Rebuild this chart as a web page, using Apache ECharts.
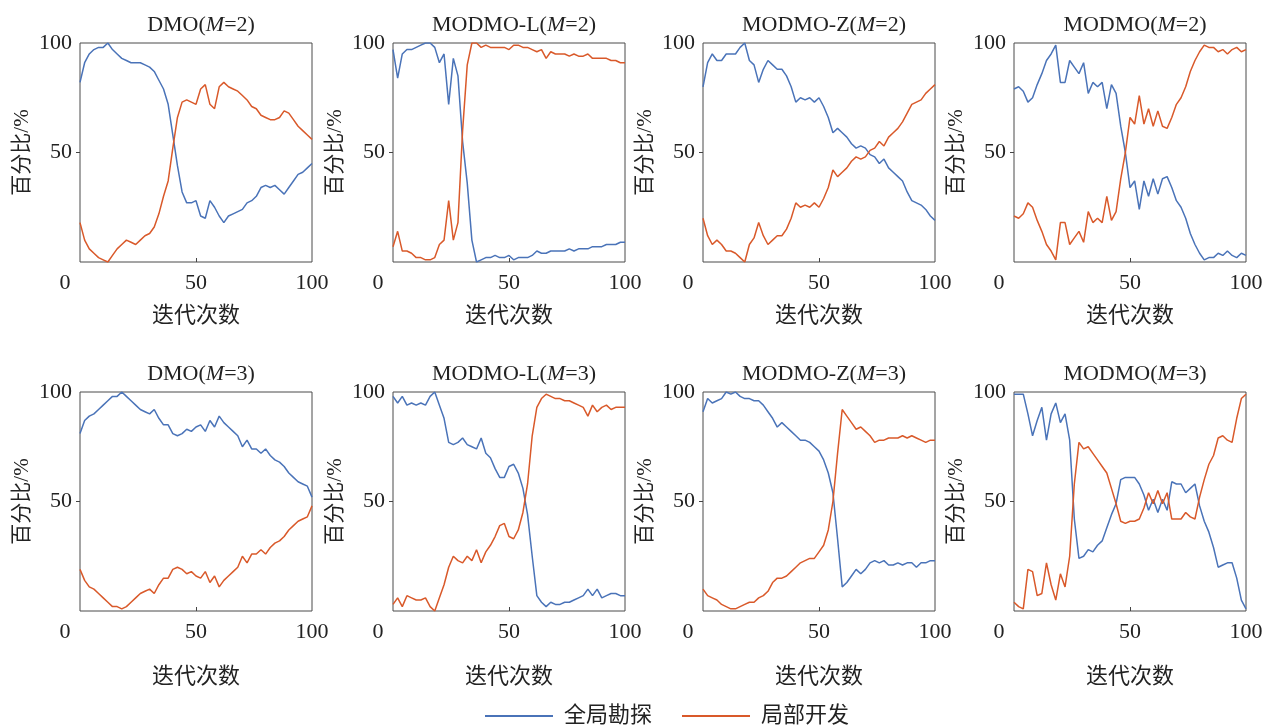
<!DOCTYPE html>
<html><head><meta charset="utf-8">
<script src="https://cdn.jsdelivr.net/npm/echarts@6/dist/echarts.min.js"></script>
<style>html,body{margin:0;padding:0;background:#fff}#c{width:1273px;height:726px}</style>
</head><body><div id="c"></div>
<script>
// x values (iteration number)
const iterations = [0,2,4,6,8,10,12,14,16,18,20,22,24,26,28,30,32,34,36,38,40,42,44,46,48,50,52,54,56,58,60,62,64,66,68,70,72,74,76,78,80,82,84,86,88,90,92,94,96,98,100];
const xTicks = [0, 50, 100];
const yTicks = [50, 100];
const seriesNames = ['全局勘探', '局部开发'];
const titles = ['DMO({i|M}=2)', 'MODMO-L({i|M}=2)', 'MODMO-Z({i|M}=2)', 'MODMO({i|M}=2)',
                'DMO({i|M}=3)', 'MODMO-L({i|M}=3)', 'MODMO-Z({i|M}=3)', 'MODMO({i|M}=3)'];

// 全局勘探 (global exploration) percentages
const dmo2Global = [82,91,95,97,98,98,100,97,95,93,92,91,91,91,90,89,87,83,79,72,58,44,32,27,27,28,21,20,28,25,21,18,21,22,23,24,27,28,30,34,35,34,35,33,31,34,37,40,41,43,45];
const modmoL2Global = [97,84,95,97,97,98,99,100,100,98,91,95,72,93,85,55,36,10,0,1,2,2,3,2,2,3,1,2,2,2,3,5,4,4,5,5,5,5,6,5,6,6,6,7,7,7,8,8,8,9,9];
const modmoZ2Global = [80,91,95,92,92,95,95,95,98,100,92,90,82,88,92,90,88,88,85,80,73,75,74,75,73,75,71,66,59,61,59,57,54,52,53,52,49,48,45,47,43,41,39,37,32,28,27,26,24,21,19];
const modmo2Global = [79,80,78,73,75,81,86,92,95,99,82,82,92,89,86,91,77,82,80,82,70,81,77,62,50,34,37,24,37,30,38,31,38,39,34,28,25,20,13,8,4,1,2,2,4,3,5,3,2,4,3];
const dmo3Global = [81,87,89,90,92,94,96,98,98,100,98,96,94,92,91,90,92,88,85,85,81,80,81,83,82,84,85,82,87,84,89,86,84,82,80,75,78,74,74,72,74,71,69,68,66,63,61,59,58,57,52];
const modmoL3Global = [98,95,98,94,95,94,95,94,98,100,94,88,77,76,77,79,76,75,74,79,72,70,65,61,61,66,67,63,56,44,25,7,4,2,4,3,3,4,4,5,6,7,10,7,10,6,7,8,8,7,7];
const modmoZ3Global = [91,97,95,96,97,100,99,100,98,97,97,96,96,94,91,88,84,86,84,82,80,78,78,77,75,73,69,63,54,33,11,13,16,19,17,19,22,23,22,23,21,21,22,21,22,22,20,22,22,23,23];
const modmo3Global = [99,99,99,90,80,87,93,78,90,95,86,90,78,42,24,25,28,27,30,32,38,44,49,60,61,61,61,58,53,46,51,45,51,46,59,58,58,54,56,58,48,41,36,29,20,21,22,22,15,5,1];

// 局部开发 (local exploitation) percentages
const dmo2Local = [18,10,6,4,2,1,0,3,6,8,10,9,8,10,12,13,16,22,30,37,52,66,73,74,73,72,79,81,72,70,80,82,80,79,78,76,74,71,70,67,66,65,65,66,69,68,65,62,60,58,56];
const modmoL2Local = [7,14,5,5,4,2,2,1,1,2,8,10,28,10,18,60,90,100,100,98,99,98,98,98,98,97,99,99,98,98,97,96,97,93,96,95,95,95,94,95,94,94,95,93,93,93,93,92,92,91,91];
const modmoZ2Local = [20,12,8,10,8,5,5,4,2,0,8,11,18,12,8,10,12,12,15,20,27,25,26,25,27,25,29,34,42,39,41,43,46,48,47,48,51,52,55,53,57,59,61,64,68,72,73,74,77,79,81];
const modmo2Local = [21,20,22,27,25,19,14,8,5,1,18,18,8,11,14,9,23,18,20,18,30,19,23,38,50,66,63,76,63,70,62,69,62,61,66,72,75,80,87,92,96,99,98,98,96,97,95,97,98,96,97];
const dmo3Local = [19,14,11,10,8,6,4,2,2,1,2,4,6,8,9,10,8,12,15,15,19,20,19,17,18,16,15,18,13,16,11,14,16,18,20,25,22,26,26,28,26,29,31,32,34,37,39,41,42,43,48];
const modmoL3Local = [3,6,2,7,6,5,5,6,2,0,6,12,20,25,23,22,25,23,28,22,27,30,34,39,40,34,33,37,45,58,80,93,97,99,98,97,97,96,96,95,94,93,89,94,91,93,94,92,93,93,93];
const modmoZ3Local = [10,7,6,5,3,2,1,1,2,3,4,4,6,7,9,13,15,15,16,18,20,22,23,24,24,27,30,37,50,72,92,89,86,83,84,82,80,77,78,78,79,79,79,80,79,80,79,78,77,78,78];
const modmo3Local = [4,2,1,19,18,7,8,22,12,5,17,11,25,58,77,74,75,72,69,66,63,56,49,41,40,41,41,42,47,54,49,55,49,54,42,42,42,45,43,42,52,60,67,71,79,80,78,77,88,97,99];

const globalSets = [dmo2Global, modmoL2Global, modmoZ2Global, modmo2Global, dmo3Global, modmoL3Global, modmoZ3Global, modmo3Global];
const localSets = [dmo2Local, modmoL2Local, modmoZ2Local, modmo2Local, dmo3Local, modmoL3Local, modmoZ3Local, modmo3Local];

const FONT = "'Liberation Serif','Times New Roman','Noto Sans CJK SC',serif";
const BLUE = '#4a73b8';
const ORANGE = '#d9592a';
const lefts = [80, 393, 703, 1014];
const tops = [43, 392];
const W = 232, H = 219;

const grid = [], xAxis = [], yAxis = [], series = [], title = [];
for (let i = 0; i < 8; i++) {
  const r = Math.floor(i / 4), c = i % 4;
  grid.push({left: lefts[c], top: tops[r], width: W, height: H, show: true,
    borderColor: '#4a4a4a', borderWidth: 1, backgroundColor: 'transparent'});
  title.push({text: titles[i], left: lefts[c] + W / 2, top: tops[r] - 34, textAlign: 'center',
    textStyle: {fontFamily: FONT, fontSize: 22, fontWeight: 'normal', color: '#222',
      rich: {i: {fontFamily: FONT, fontSize: 22, fontStyle: 'italic', color: '#222'}}}});
  xAxis.push({gridIndex: i, type: 'value', min: 0, max: 100, interval: 50,
    name: '迭代次数', nameLocation: 'middle', nameGap: r === 0 ? 43 : 55,
    nameTextStyle: {fontFamily: FONT, fontSize: 22, color: '#222'},
    axisLine: {show: false}, splitLine: {show: false},
    axisTick: {show: true, inside: true, length: 4, customValues: [50], lineStyle: {color: '#444'}},
    axisLabel: {fontFamily: FONT, fontSize: 22, color: '#222', margin: 10,
      formatter: v => xTicks.includes(v) ? (v === 0 ? '{z|0}' : String(v)) : '',
      rich: {z: {fontFamily: FONT, fontSize: 22, color: '#222', padding: [0, 30, 0, 0]}}}});
  yAxis.push({gridIndex: i, type: 'value', min: 0, max: 100, interval: 50,
    name: '百分比/%', nameLocation: 'middle', nameRotate: 90, nameGap: 47,
    nameTextStyle: {fontFamily: FONT, fontSize: 21, color: '#222'},
    axisLine: {show: false}, splitLine: {show: false},
    axisTick: {show: true, length: 4, customValues: [50], lineStyle: {color: '#444'}},
    axisLabel: {fontFamily: FONT, fontSize: 22, color: '#222', margin: 8,
      formatter: v => yTicks.includes(v) ? String(v) : ''}});
  series.push({name: seriesNames[0], type: 'line', xAxisIndex: i, yAxisIndex: i,
    data: iterations.map((x, k) => [x, globalSets[i][k]]),
    symbol: 'none', showSymbol: false, lineStyle: {width: 1.5, color: BLUE}, itemStyle: {color: BLUE}});
  series.push({name: seriesNames[1], type: 'line', xAxisIndex: i, yAxisIndex: i,
    data: iterations.map((x, k) => [x, localSets[i][k]]),
    symbol: 'none', showSymbol: false, lineStyle: {width: 1.5, color: ORANGE}, itemStyle: {color: ORANGE}});
}

const chart = echarts.init(document.getElementById('c'), null, {renderer: 'canvas'});
chart.setOption({
  animation: false,
  backgroundColor: '#fff',
  title: title,
  grid: grid, xAxis: xAxis, yAxis: yAxis, series: series,
  legend: {data: seriesNames, left: 480, top: 700, icon: 'rect', itemWidth: 68, itemHeight: 2, itemGap: 30,
    textStyle: {fontFamily: FONT, fontSize: 22, color: '#222', padding: [0, 0, 0, 6]}}
});
</script></body></html>
